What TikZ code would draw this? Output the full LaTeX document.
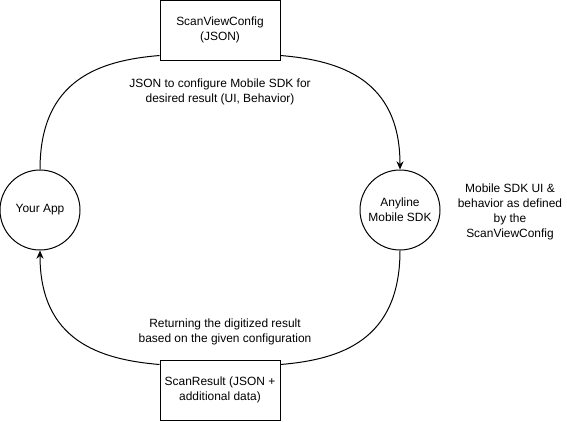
\documentclass[tikz,border=0pt]{standalone}
\usepackage{fontspec}
\setmainfont{Liberation Sans}
\usetikzlibrary{arrows.meta, calc}
\newcommand{\diagfont}{\fontsize{10.2pt}{12.8pt}\selectfont}

\begin{document}
\begin{tikzpicture}[
    x=0.03cm, y=-0.03cm,
    % Styles
    config/.style={rectangle, draw=black, line width=0.85pt, minimum width=3.6cm, minimum height=1.8cm, inner sep=0pt, align=center, font=\diagfont},
    endpoint/.style={circle, draw=black, line width=0.85pt, minimum size=2.4cm, inner sep=0pt, align=center, font=\diagfont},
    note/.style={align=center, font=\diagfont, inner sep=0pt},
    flow/.style={line width=0.85pt},
    arrow/.style={flow, -{Stealth[length=7pt, width=6pt]}}
]
    \useasboundingbox (0,0) rectangle (567,421);

    % Config on top, result at the bottom
    \node[config] (viewconfig) at (220,30) {ScanViewConfig\\(JSON)};
    \node[config] (scanresult) at (220,390) {ScanResult (JSON +\\additional data)};

    % App and SDK at the sides
    \node[endpoint] (yourapp) at (40,210) {Your App};
    \node[endpoint] (anyline) at (400,210) {Anyline\\Mobile SDK};

    % Labels
    \node[note] (configtext) at (220,92) {JSON to configure Mobile SDK for\\desired result (UI, Behavior)};
    \node[note] (resulttext) at (225,332) {Returning the digitized result\\based on the given configuration};
    \node[note] (sdktext) at (510,212) {Mobile SDK UI \&\\behavior as defined\\by the\\ScanViewConfig};

    % Upper arc
    \draw[flow] (yourapp.north) .. controls +(0,-90) and +(-60,5) .. ($(viewconfig.south west)+(0,-5)$);
    \draw[arrow] ($(viewconfig.south east)+(0,-5)$) .. controls +(60,5) and +(0,-90) .. (anyline.north);

    % Lower arc
    \draw[flow] (anyline.south) .. controls +(0,90) and +(60,-5) .. ($(scanresult.north east)+(0,5)$);
    \draw[arrow] ($(scanresult.north west)+(0,5)$) .. controls +(-60,-5) and +(0,90) .. (yourapp.south);
\end{tikzpicture}
\end{document}
